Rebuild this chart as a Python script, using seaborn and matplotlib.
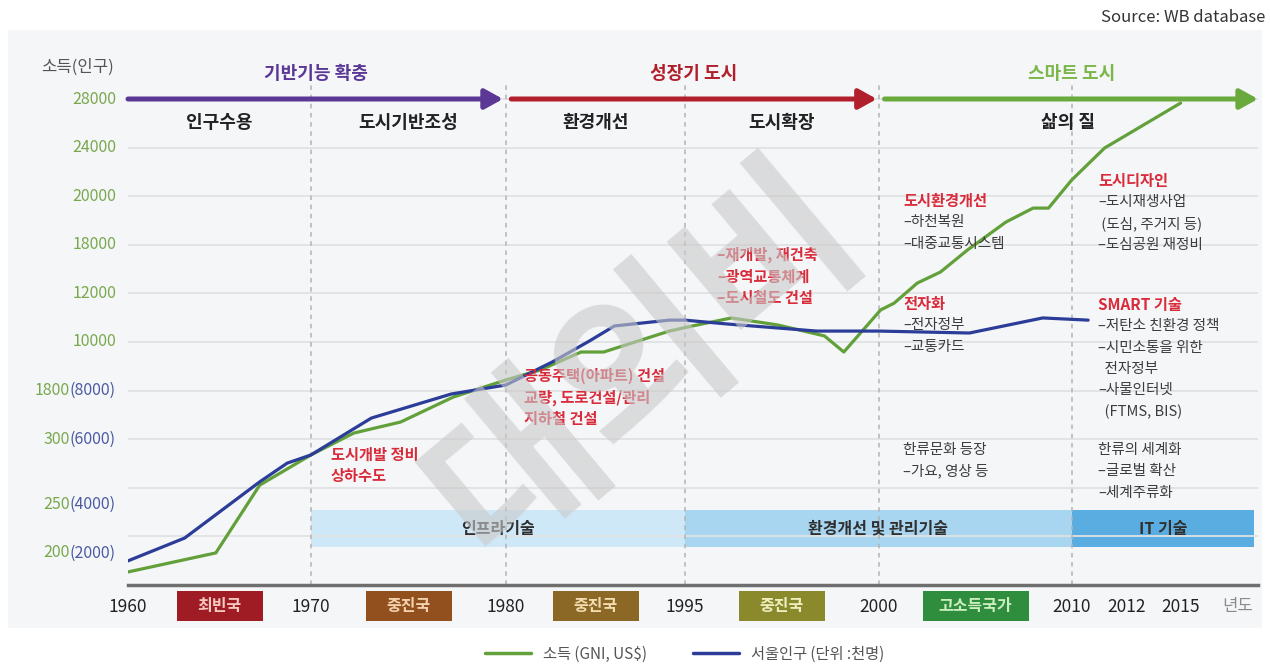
import numpy as np
import pandas as pd
import matplotlib
matplotlib.use("Agg")
import matplotlib.pyplot as plt
import seaborn as sns
from matplotlib.patches import Rectangle
from matplotlib.lines import Line2D

# ---------------- data ----------------
income_years = [1960, 1964.8, 1967.2, 1970, 1972.2, 1974.6, 1977.3, 1980, 1982.9, 1986.3,
                1988.2, 1993.7, 1995.2, 1996.2, 1997.4, 1998.6, 1999.1, 2000.1, 2000.8,
                2002.0, 2003.2, 2004.6, 2006.6, 2008.0, 2008.8, 2010.0, 2011.2, 2015]
income_usd = [181, 200, 265, 288, 490, 830, 1600, 3590, 5280, 8310,
              8310, 10450, 10660, 10990, 10700, 10250, 8310, 11320, 11600,
              13280, 14640, 17360, 18940, 19510, 19510, 21330, 23970, 27670]

pop_years = [1960, 1963.1, 1967.2, 1968.7, 1970, 1973.1, 1977.2, 1980, 1983.9, 1987.0,
             1989.1, 1993.7, 1995, 1996.1, 1998.4, 2000, 2004.7, 2008.5, 2010.6]
pop_thousand = [1670, 2620, 4700, 5270, 5520, 6870, 7860, 8230, 9180, 10040,
                10660, 10900, 10900, 10740, 10450, 10450, 10370, 10990, 10900]

income_tick_values = [200, 250, 300, 1800, 10000, 12000, 18000, 20000, 24000, 28000]
pop_tick_values = [2000, 4000, 6000, 8000]
year_ticks = [1960, 1970, 1980, 1995, 2000, 2010, 2012, 2015]
divider_years = [1970, 1980, 1995, 2000, 2010]

phase_labels = ["기반기능 확충", "성장기 도시", "스마트 도시"]
phase_spans = [(1960, 1979.85), (1980.45, 1999.95), (2000.3, 2019.3)]
stage_labels = ["인구수용", "도시기반조성", "환경개선", "도시확장", "삶의 질"]
stage_spans = [(1960, 1970), (1970, 1980), (1980, 1995), (1995, 2000), (2000, 2019.3)]
tech_labels = ["인프라기술", "환경개선 및 관리기술", "IT 기술"]
tech_spans = [(1970, 1995), (1995, 2010), (2010, 2019.1)]
status_labels = ["최빈국", "중진국", "중진국", "중진국", "고소득국가"]
status_spans = [(1960, 1970), (1970, 1980), (1980, 1995), (1995, 2000), (2000, 2010)]

# hand-made non-linear axes of the original infographic
inc_anchor_val = [0, 200, 250, 300, 1800, 10000, 12000, 18000, 20000, 24000, 28000, 40000]
inc_anchor_pos = [-3.46, 0.66, 1.65, 3, 4, 5, 6, 7, 8, 9, 10, 13]
pop_anchor_val = [0, 2000, 4000, 6000, 8000, 10000, 12000, 30000]
pop_anchor_pos = [-0.33, 0.66, 1.65, 3, 4, 5, 6, 15]
year_anchor_val = [1900, 1960, 1970, 1980, 1995, 2000, 2010, 2012, 2015, 2100]
year_anchor_pos = [-970, 128, 311, 506, 685, 879, 1072, 1127, 1181, 2711]


def make_scale(vals, pos):
    vals = np.asarray(vals, float)
    pos = np.asarray(pos, float)

    def fwd(v):
        return np.interp(np.asarray(v, float), vals, pos)

    def inv(p):
        return np.interp(np.asarray(p, float), pos, vals)
    return fwd, inv


inc_fwd, inc_inv = make_scale(inc_anchor_val, inc_anchor_pos)
pop_fwd, pop_inv = make_scale(pop_anchor_val, pop_anchor_pos)
yr_fwd, yr_inv = make_scale(year_anchor_val, year_anchor_pos)

# ---------------- style ----------------
sns.set_theme(style="white")
plt.rcParams["font.family"] = ["Noto Sans CJK KR", "DejaVu Sans"]
plt.rcParams["axes.unicode_minus"] = False

GREEN = "#62a03a"
BLUE = "#2b3d98"
GREEN_T = "#78a84c"
BLUE_T = "#4b5aa3"
RED_T = "#d92b3a"
GRAY_T = "#3c3c3c"

W, H = 1270, 666
fig = plt.figure(figsize=(W / 100, H / 100), dpi=100)
fig.patch.set_facecolor("white")
fig.patches.append(Rectangle((8 / W, 1 - 628 / H), 1254 / W, 598 / H, transform=fig.transFigure,
                             facecolor="#f5f6f8", edgecolor="none", zorder=-5))

POS_TOP = 11.0
UNIT = 48.6
ax = fig.add_axes([128 / W, 1 - 585 / H, 1130 / W, POS_TOP * UNIT / H])
ax.set_facecolor("none")
ax.set_xscale("function", functions=(yr_fwd, yr_inv))
ax.set_yscale("function", functions=(inc_fwd, inc_inv))
ax2 = ax.twinx()
ax2.set_yscale("function", functions=(pop_fwd, pop_inv))

df_inc = pd.DataFrame({"year": income_years, "value": income_usd})
df_pop = pd.DataFrame({"year": pop_years, "value": pop_thousand})
sns.lineplot(data=df_inc, x="year", y="value", ax=ax, color=GREEN, lw=2.3,
             sort=False, estimator=None, zorder=4)
sns.lineplot(data=df_pop, x="year", y="value", ax=ax2, color=BLUE, lw=2.3,
             sort=False, estimator=None, zorder=4)

ax.set_xlim(1960, 2019.3)
ax.set_ylim(inc_inv(0), inc_inv(POS_TOP))
ax2.set_ylim(pop_inv(0), pop_inv(POS_TOP))
for a in (ax, ax2):
    a.set_xlabel("")
    a.set_ylabel("")
    for s in ("top", "left", "right"):
        a.spines[s].set_visible(False)
ax2.spines["bottom"].set_visible(False)
ax2.set_yticks([])
ax.spines["bottom"].set_color("#6e6e6e")
ax.spines["bottom"].set_linewidth(2.5)

# horizontal grid
ax.set_yticks(inc_inv(np.arange(1, 11)))
ax.yaxis.grid(True, color="#e1e2e4", lw=1.3)
ax.xaxis.grid(False)
ax.tick_params(axis="y", length=0, labelleft=False)
ax.set_xticks(year_ticks, labels=[str(y) for y in year_ticks])
ax.tick_params(axis="x", length=0, pad=9, labelsize=12.5, labelcolor="#222222")

# dashed period dividers
for yr in divider_years:
    ax.axvline(yr, ymin=0, ymax=10.3 / POS_TOP, color="#b3b3b3", lw=1.1, ls=(0, (3, 3)), zorder=1)

# technology bands
band_cols = ["#cfe8f8", "#a8d6f1", "#5aade0"]
for (a, b), lab, c in zip(tech_spans, tech_labels, band_cols):
    ax.axvspan(a, b, ymin=0.78 / POS_TOP, ymax=1.54 / POS_TOP, color=c, lw=0, zorder=0.5)
    xm = yr_inv((yr_fwd(a) + yr_fwd(b)) / 2)
    ax.text(xm, 1.16 / POS_TOP, lab, transform=ax.get_xaxis_transform(), ha="center",
            va="center", fontsize=11.5, color="#2f2f2f", fontweight="bold", zorder=3)

# phase arrows and labels
phase_cols = ["#5b3796", "#b11f2c", "#6aaa3c"]
phase_text_cols = ["#5b3796", "#b11f2c", "#7cb74a"]
for (a, b), lab, c, tc in zip(phase_spans, phase_labels, phase_cols, phase_text_cols):
    ax.annotate("", xy=(b, 28000), xytext=(a, 28000), annotation_clip=False,
                arrowprops=dict(arrowstyle="-|>,head_length=0.9,head_width=0.5", color=c,
                                lw=3.6, shrinkA=0, shrinkB=0, mutation_scale=12), zorder=5)
    xm = yr_inv((yr_fwd(a) + yr_fwd(b)) / 2)
    ax.text(xm, 10.53 / POS_TOP, lab, transform=ax.get_xaxis_transform(), ha="center",
            va="center", fontsize=13, color=tc, fontweight="bold")

for (a, b), lab in zip(stage_spans, stage_labels):
    xm = yr_inv((yr_fwd(a) + yr_fwd(b)) / 2)
    ax.text(xm, 9.52 / POS_TOP, lab, transform=ax.get_xaxis_transform(), ha="center",
            va="center", fontsize=13, color="#222222", fontweight="bold")

# y tick labels (income green, population blue)
for i, v in enumerate(income_tick_values):
    if i < len(pop_tick_values):
        t = ax2.annotate(f"({pop_tick_values[i]})", xy=(0, pop_tick_values[i]),
                         xycoords=("axes fraction", "data"), xytext=(-8.6, 0),
                         textcoords="offset points", ha="right", va="center",
                         color=BLUE_T, fontsize=11.5, annotation_clip=False)
        ax.annotate(str(v), xy=(0, 0.5), xycoords=t, ha="right", va="center",
                    color=GREEN_T, fontsize=11.5, annotation_clip=False)
    else:
        ax.annotate(str(v), xy=(0, v), xycoords=("axes fraction", "data"), xytext=(-8.6, 0),
                    textcoords="offset points", ha="right", va="center",
                    color=GREEN_T, fontsize=11.5, annotation_clip=False)


def ft(x, y, s, **kw):
    fig.text(x / W, 1 - y / H, s, **kw)


ft(78, 67, "소득(인구)", ha="center", va="center", fontsize=12, color="#555555")
ft(1265, 17, "Source: WB database", ha="right", va="center", fontsize=12, color="#333333")
ft(1238, 606, "년도", ha="center", va="center", fontsize=12, color="#8a8a8a")

# country status boxes
status_cols = ["#a01c24", "#93501f", "#8c6826", "#8a8a2c", "#2f8e3e"]
status_txt = ["#f6c9c0", "#f3d2b0", "#f3dcb0", "#eeeec0", "#cdeec0"]
for (a, b), lab, c, tc in zip(status_spans, status_labels, status_cols, status_txt):
    cx = (yr_fwd(a) + yr_fwd(b)) / 2
    w = 106 if len(lab) > 3 else 86
    fig.patches.append(Rectangle(((cx - w / 2) / W, 1 - 621 / H), w / W, 30 / H,
                                 transform=fig.transFigure, facecolor=c, edgecolor="none", zorder=2))
    ft(cx, 606, lab, ha="center", va="center", fontsize=11.5, color=tc, fontweight="bold", zorder=3)

# annotation blocks: (x, y0, [(text, kind)])
blocks = [
    (331, 455, [("도시개발 정비", "r"), ("상하수도", "r")]),
    (524, 376, [("공동주택(아파트) 건설", "r"), ("교량, 도로건설/관리", "r"), ("지하철 건설", "r")]),
    (717, 255, [("–재개발, 재건축", "r"), ("–광역교통체계", "r"), ("–도시철도 건설", "r")]),
    (903, 201, [("도시환경개선", "r"), ("–하천복원", "g"), ("–대중교통시스템", "g")]),
    (903, 304, [("전자화", "r"), ("–전자정부", "g"), ("–교통카드", "g")]),
    (903, 450, [("한류문화 등장", "g"), ("–가요, 영상 등", "g")]),
    (1098, 181, [("도시디자인", "r"), ("–도시재생사업", "g"), (" (도심, 주거지 등)", "g"),
                 ("–도심공원 재정비", "g")]),
    (1098, 305, [("SMART 기술", "r"), ("–저탄소 친환경 정책", "g"), ("–시민소통을 위한", "g"),
                 ("  전자정부", "g"), ("–사물인터넷", "g"), ("  (FTMS, BIS)", "g")]),
    (1098, 450, [("한류의 세계화", "g"), ("–글로벌 확산", "g"), ("–세계주류화", "g")]),
]
for x, y0, lines in blocks:
    for k, (s, kind) in enumerate(lines):
        if kind == "r":
            ft(x, y0 + 21.3 * k, s, ha="left", va="center", fontsize=11, color=RED_T,
               fontweight="bold", zorder=6)
        else:
            ft(x, y0 + 21.3 * k, s, ha="left", va="center", fontsize=10.5, color=GRAY_T, zorder=6)

# legend
handles = [Line2D([], [], color=GREEN, lw=2.5), Line2D([], [], color=BLUE, lw=2.5)]
fig.legend(handles, [r"소득 (GNI, US\$)", "서울인구 (단위 :천명)"], loc="center",
           bbox_to_anchor=(685 / W, 1 - 654 / H), ncol=2, frameon=False, fontsize=11,
           handlelength=3, columnspacing=3, labelcolor="#555555")

# watermark
ft(645, 362, "대외비", ha="center", va="center", fontsize=130, color="#c9c9c9", alpha=0.6,
   rotation=40, fontweight="bold", zorder=10)

fig.savefig("out.png", dpi=100)
